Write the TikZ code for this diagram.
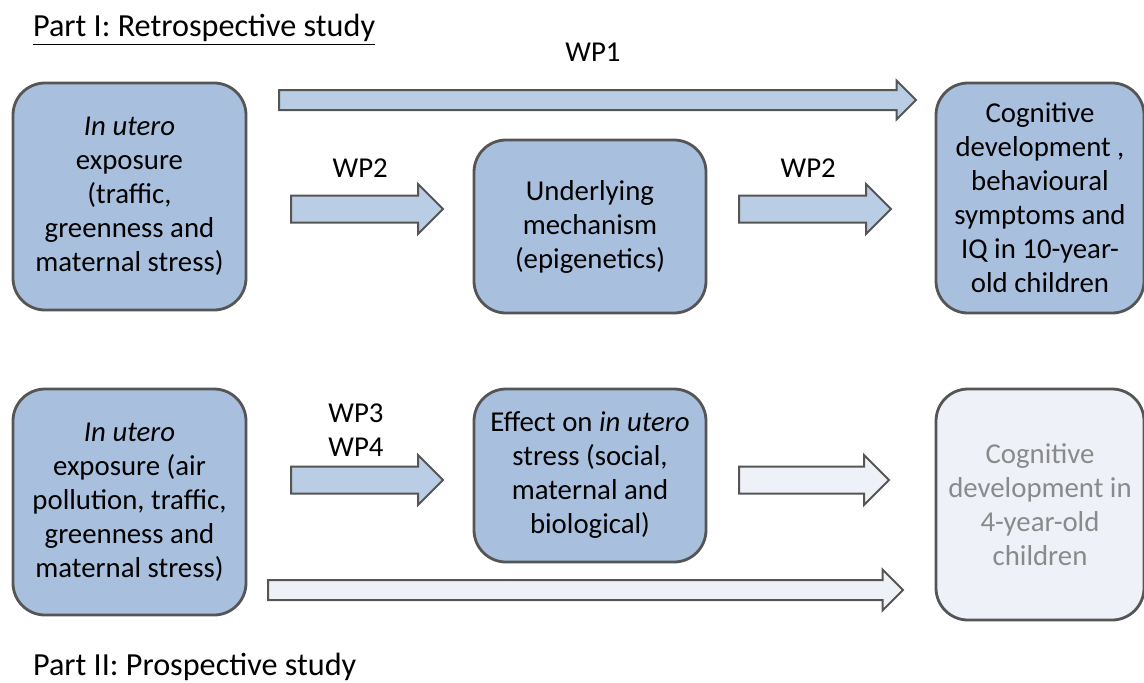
\documentclass[tikz,border=0pt]{standalone}
\usepackage{fontspec}
\setmainfont{Carlito}
\usetikzlibrary{shapes,arrows,positioning,calc}

\definecolor{boxfill}{HTML}{A8C0DE}
\definecolor{arrfill}{HTML}{B9CDE5}
\definecolor{lightfill}{HTML}{EEF2F8}
\definecolor{edge}{HTML}{555555}
\definecolor{greytext}{HTML}{8A8A8A}

\begin{document}
\begin{tikzpicture}[x=0.5pt,y=-0.5pt,
    font=\fontsize{14.4}{17}\selectfont,
    stage/.style={rectangle,rounded corners=16pt,draw=edge,line width=1.4pt,fill=boxfill,align=center,inner sep=2pt},
    blockarr/.style={single arrow,draw=edge,line width=1pt,fill=arrfill,inner xsep=0pt,single arrow tip angle=90,anchor=tail}]
    \useasboundingbox (0,0) rectangle (1144,682);

    % Part I
    \node[anchor=west,font=\fontsize{16.1}{19}\selectfont] (part1) at (26,30) {\underline{Part I: Retrospective study}};

    % Exposure (retrospective)
    \node[stage,minimum width=116.5pt,minimum height=113.5pt] (exp1) at (129.5,196.5) {\textit{In utero}\\exposure\\(traffic,\\greenness and\\maternal stress)};

    % Mechanism
    \node[stage,minimum width=116pt,minimum height=86.5pt] (mech) at (590,226.5) {Underlying\\mechanism\\(epigenetics)};

    % Outcome at 10 years
    \node[stage,minimum width=104pt,minimum height=115pt] (out10) at (1040,198) {Cognitive\\development ,\\behavioural\\symptoms and\\IQ in 10-year-\\old children};

    % WP1 arrow
    \node[blockarr,minimum height=318.5pt,inner ysep=4.5pt,single arrow head extend=4.75pt] (wp1) at (278,100) {};
    \node (wp1lbl) at (593,52) {WP1};

    % WP2 arrows
    \node[blockarr,minimum height=76pt,inner ysep=6.25pt,single arrow head extend=5.75pt] (wp2a) at (290,209) {};
    \node[blockarr,minimum height=76pt,inner ysep=6.25pt,single arrow head extend=5.75pt] (wp2b) at (738,209) {};
    \node[above=5pt of wp2a] (wp2albl) {WP2};
    \node[above=5pt of wp2b] (wp2blbl) {WP2};

    % Exposure (prospective)
    \node[stage,minimum width=116.5pt,minimum height=113pt] (exp2) at (129.5,502) {\textit{In utero}\\exposure (air\\pollution, traffic,\\greenness and\\maternal stress)};

    % Stress effect
    \node[stage,minimum width=116pt,minimum height=86.5pt] (stress) at (590,475.5) {Effect on \textit{in utero}\\stress (social,\\maternal and\\biological)};

    % Outcome at 4 years
    \node[stage,fill=lightfill,text=greytext,minimum width=104pt,minimum height=115.5pt] (out4) at (1040,504.5) {Cognitive\\development in\\4-year-old\\children};

    % WP3 / WP4 arrows
    \node[blockarr,minimum height=76pt,inner ysep=6.25pt,single arrow head extend=5.75pt] (wp34) at (290,480) {};
    \node[blockarr,fill=lightfill,minimum height=75pt,inner ysep=6.25pt,single arrow head extend=5.75pt] (wp34b) at (738,480) {};
    \node[align=center] (wp34lbl) at (356,430) {WP3\\WP4};

    % Long bottom arrow
    \node[blockarr,fill=lightfill,minimum height=317.5pt,inner ysep=4.5pt,single arrow head extend=5.25pt] (long) at (267,590) {};

    % Part II
    \node[anchor=west,font=\fontsize{16.1}{19}\selectfont] (part2) at (26,667) {Part II: Prospective study};
\end{tikzpicture}
\end{document}
